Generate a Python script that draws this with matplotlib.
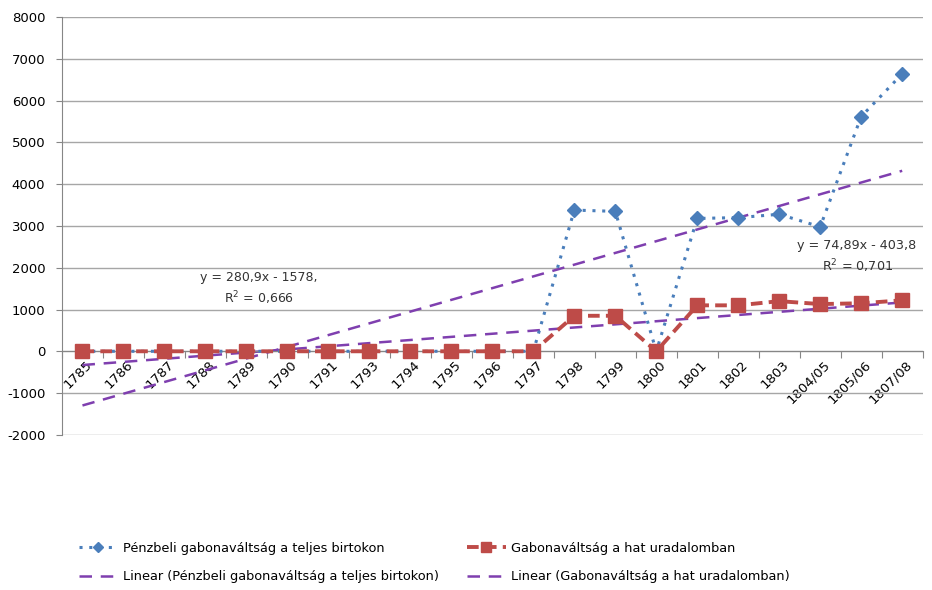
import numpy as np
import matplotlib
matplotlib.use("Agg")
import matplotlib.pyplot as plt
import matplotlib.transforms as mtrans

categories = ["1785", "1786", "1787", "1788", "1789", "1790", "1791", "1793", "1794",
              "1795", "1796", "1797", "1798", "1799", "1800", "1801", "1802", "1803",
              "1804/05", "1805/06", "1807/08"]
penzbeli = [0, 0, 0, 0, 0, 0, 0, 0, 0, 0, 0, 0,
            3380, 3350, 0, 3180, 3200, 3280, 2980, 5620, 6640]
gabona = [0, 0, 0, 0, 0, 0, 0, 0, 0, 0, 0, 0,
          850, 850, 0, 1100, 1100, 1200, 1130, 1150, 1220]
trend_slope = [280.9, 74.89]
trend_intercept = [-1578, -403.8]
eq_labels = ["y = 280,9x - 1578,\nR$^2$ = 0,666", "y = 74,89x - 403,8\nR$^2$ = 0,701"]
series_names = ["Pénzbeli gabonaváltság a teljes birtokon", "Gabonaváltság a hat uradalomban"]

plt.rcParams['font.family'] = ['DejaVu Sans']
plt.rcParams['axes.unicode_minus'] = False
fig = plt.figure(figsize=(9.32, 5.90), dpi=100)
ax = fig.add_axes([0.0665, 0.263, 0.9235, 0.708])

n = len(categories)
x = np.arange(1, n + 1)
blue = '#4A7EBB'
red = '#BE4B48'
purple = '#7F3FAF'

h_blue, = ax.plot(x, penzbeli, linestyle=(0, (1, 2.2)), color=blue, lw=2.2, marker='D',
                  markersize=7, markerfacecolor=blue, markeredgecolor=blue, zorder=3,
                  label=series_names[0])
h_red, = ax.plot(x, gabona, linestyle=(0, (3, 1.6)), color=red, lw=2.8, marker='s',
                 markersize=10, markerfacecolor=red, markeredgecolor=red, zorder=4,
                 label=series_names[1])
h_tr = []
for i in range(2):
    h, = ax.plot(x, trend_slope[i] * x + trend_intercept[i], linestyle=(0, (5, 3.5)),
                 color=purple, lw=1.8, zorder=2,
                 label="Linear (" + series_names[i] + ")")
    h_tr.append(h)

ax.set_xlim(0.5, n + 0.5)
ax.set_ylim(-2000, 8000)
ax.set_yticks(np.arange(-2000, 8001, 1000))
ax.yaxis.grid(True, color='#A6A6A6', lw=1)
ax.set_axisbelow(True)
for s in ['top', 'right']:
    ax.spines[s].set_visible(False)
ax.spines['left'].set_color('#868686')
ax.spines['bottom'].set_color('#868686')
ax.spines['bottom'].set_position(('data', 0))
ax.tick_params(axis='y', colors='#868686', length=4, labelcolor='black', labelsize=9.5, pad=8)
ax.set_xticks(np.arange(0.5, n + 1, 1))
ax.set_xticklabels([])
ax.set_xticks(x, minor=True)
ax.set_xticklabels(categories, minor=True, rotation=45, ha='right',
                   rotation_mode='anchor', fontsize=9.5)
ax.tick_params(axis='x', which='major', colors='#868686', length=5)
ax.tick_params(axis='x', which='minor', length=0, pad=5)
offset = mtrans.ScaledTranslation(3 / 100, 0, fig.dpi_scale_trans)
for lab in ax.get_xticklabels(minor=True):
    lab.set_transform(lab.get_transform() + offset)

ax.annotate(eq_labels[0], xy=(5.3, 1500), ha='center', va='center',
            fontsize=9, color='#333333', linespacing=1.4)
ax.annotate(eq_labels[1], xy=(19.9, 2260), ha='center', va='center',
            fontsize=9.2, color='#333333', linespacing=1.4)

handles = [h_blue, h_tr[0], h_red, h_tr[1]]
labels = [h.get_label() for h in handles]
fig.legend(handles, labels, loc='lower left', bbox_to_anchor=(0.072, -0.008), ncol=2,
           frameon=False, fontsize=9.3, handlelength=3.0, columnspacing=2.2,
           labelspacing=1.2, handletextpad=0.4, markerscale=0.7)

fig.savefig("out.png", dpi=100)
